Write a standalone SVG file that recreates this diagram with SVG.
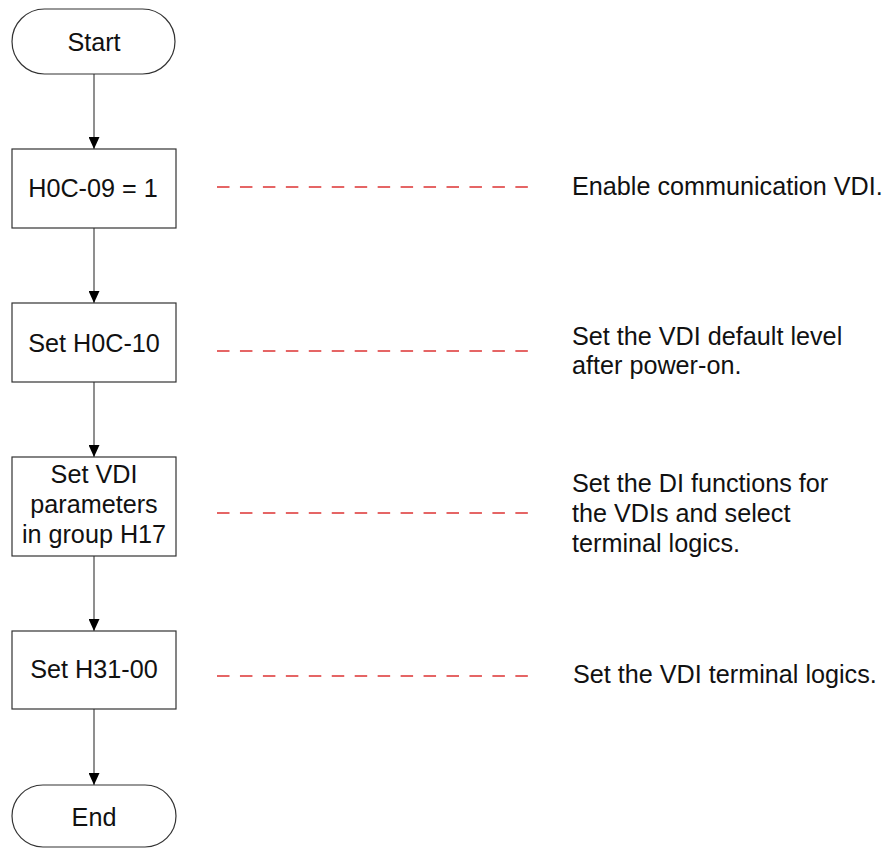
<svg xmlns="http://www.w3.org/2000/svg" width="887" height="848" viewBox="0 0 887 848">
<style>
.shape{fill:#ffffff;stroke:#333333;stroke-width:1.2}
.t{font-family:"Liberation Sans",Arial,sans-serif;font-size:25.2px;fill:#111111}
.c{text-anchor:middle}
.conn{stroke:#333333;stroke-width:1.1;fill:none}
.dash{stroke:#dd3333;stroke-width:1.6;fill:none;stroke-dasharray:12.5 10.45}
</style>
<defs>
<marker id="arr" markerWidth="12" markerHeight="11" refX="12" refY="5.5" orient="auto" markerUnits="userSpaceOnUse" viewBox="0 0 12 11">
<path d="M0,0 L12,5.5 L0,11 Z" fill="#000000"/>
</marker>
</defs>
<rect width="887" height="848" fill="#ffffff"/>
<g id="connectors">
<line class="conn" x1="94" y1="74" x2="94" y2="149" marker-end="url(#arr)"/>
<line class="conn" x1="94" y1="228" x2="94" y2="303" marker-end="url(#arr)"/>
<line class="conn" x1="94" y1="382" x2="94" y2="457" marker-end="url(#arr)"/>
<line class="conn" x1="94" y1="556" x2="94" y2="631" marker-end="url(#arr)"/>
<line class="conn" x1="94" y1="709" x2="94" y2="785" marker-end="url(#arr)"/>
</g>
<g id="annotations">
<line class="dash" x1="217" y1="187" x2="529" y2="187"/>
<line class="dash" x1="217" y1="351" x2="529" y2="351"/>
<line class="dash" x1="217" y1="513" x2="529" y2="513"/>
<line class="dash" x1="217" y1="676" x2="529" y2="676"/>
</g>
<g id="start">
<rect class="shape" x="12" y="9" width="163" height="65" rx="32.5" ry="32.5"/>
<text class="t c" x="94" y="51">Start</text>
</g>
<g id="step1">
<rect class="shape" x="12" y="149" width="164" height="79"/>
<text class="t c" x="93" y="197">H0C-09 = 1</text>
</g>
<g id="step2">
<rect class="shape" x="12" y="303" width="164" height="79"/>
<text class="t c" x="94" y="352">Set H0C-10</text>
</g>
<g id="step3">
<rect class="shape" x="12" y="457" width="164" height="99"/>
<text class="t c" x="94" y="483">Set VDI</text>
<text class="t c" x="94" y="513">parameters</text>
<text class="t c" x="94" y="543">in group H17</text>
</g>
<g id="step4">
<rect class="shape" x="12" y="631" width="164" height="78"/>
<text class="t c" x="94" y="678">Set H31-00</text>
</g>
<g id="end">
<rect class="shape" x="12" y="785" width="164" height="62" rx="31" ry="31"/>
<text class="t c" x="94" y="826">End</text>
</g>
<g id="note1">
<text class="t" x="572" y="195">Enable communication VDI.</text>
</g>
<g id="note2">
<text class="t" x="572" y="345">Set the VDI default level</text>
<text class="t" x="572" y="374">after power-on.</text>
</g>
<g id="note3">
<text class="t" x="572" y="492">Set the DI functions for</text>
<text class="t" x="572" y="522">the VDIs and select</text>
<text class="t" x="572" y="552">terminal logics.</text>
</g>
<g id="note4">
<text class="t" x="573" y="683">Set the VDI terminal logics.</text>
</g>
</svg>
